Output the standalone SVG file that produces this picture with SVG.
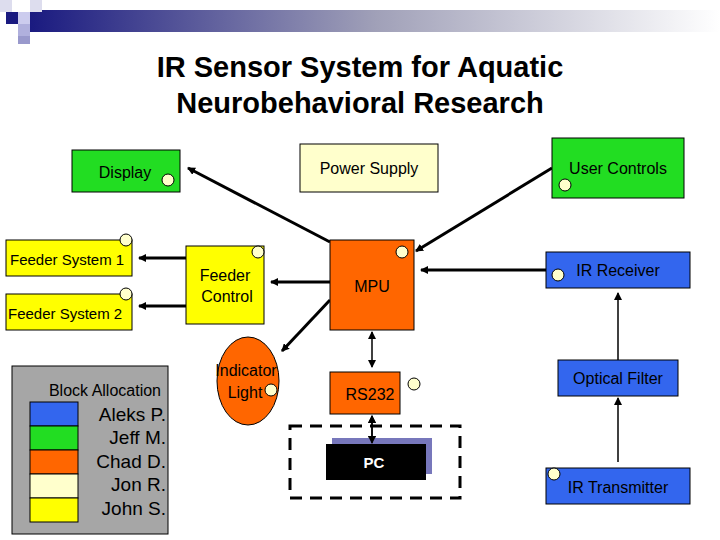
<svg xmlns="http://www.w3.org/2000/svg" width="720" height="540" viewBox="0 0 720 540">
<defs>
<linearGradient id="band" x1="0" x2="1" y1="0" y2="0"><stop offset="0" stop-color="#1a1a80"/><stop offset="0.5" stop-color="#a0a0b8"/><stop offset="1" stop-color="#ffffff"/></linearGradient>
<marker id="ah" markerWidth="8" markerHeight="8" refX="7" refY="4" orient="auto" markerUnits="userSpaceOnUse"><path d="M0,0 L8,4 L0,8 z" fill="#000"/></marker>
<marker id="as" markerWidth="8" markerHeight="8" refX="1" refY="4" orient="auto" markerUnits="userSpaceOnUse"><path d="M8,0 L0,4 L8,8 z" fill="#000"/></marker>
<style>
text{font-family:"Liberation Sans",Arial,sans-serif;fill:#000}
.b{stroke:#000;stroke-width:1}
.p{fill:#ffffcc;stroke:#000;stroke-width:1}
.t{font-size:16px;text-anchor:middle}
.l{font-size:19px;text-anchor:end}
.c line{stroke:#000;stroke-width:3;marker-end:url(#ah)}
</style>
</defs>
<rect width="720" height="540" fill="#fff"/>
<rect x="30" y="10" width="690" height="22" fill="url(#band)"/>
<rect x="0" y="0" width="12" height="12" fill="#ddddee"/>
<rect x="6" y="12" width="12" height="12" fill="#1a1a80"/>
<rect x="18" y="12" width="12" height="12" fill="#ccccee"/>
<rect x="30" y="0" width="12" height="12" fill="#ddddee"/>
<rect x="18" y="24" width="12" height="12" fill="#b0b0dd"/>
<rect x="18" y="36" width="12" height="8" fill="#9999cc"/>
<text x="360" y="77" font-size="29" font-weight="bold" text-anchor="middle">IR Sensor System for Aquatic</text>
<text x="360" y="113" font-size="29" font-weight="bold" text-anchor="middle">Neurobehavioral Research</text>

<g class="c">
<line x1="330" y1="242" x2="188" y2="168"/>
<line x1="552" y1="168" x2="416" y2="251"/>
<line x1="546" y1="270" x2="421" y2="270"/>
<line x1="330" y1="282" x2="271" y2="282"/>
<line x1="186" y1="258" x2="139" y2="258"/>
<line x1="186" y1="306" x2="139" y2="306"/>
<line x1="330" y1="300" x2="282" y2="351"/>
<line x1="372" y1="332" x2="372" y2="367" style="stroke-width:1.5" marker-start="url(#as)"/>
<line x1="372" y1="416" x2="372" y2="443" style="stroke-width:1.5" marker-start="url(#as)"/>
<line x1="618" y1="360" x2="618" y2="293" style="stroke-width:1.5"/>
<line x1="618" y1="462" x2="618" y2="398" style="stroke-width:1.5"/>
</g>

<g id="display"><rect class="b" x="72" y="150" width="108" height="42" fill="#22dd22"/><text class="t" x="125" y="178">Display</text><circle class="p" cx="168" cy="180" r="6"/></g>
<g id="power"><rect class="b" x="300" y="144" width="138" height="48" fill="#ffffcc"/><text class="t" x="369" y="174">Power Supply</text></g>
<g id="usercontrols"><rect class="b" x="552" y="138" width="132" height="60" fill="#22dd22"/><text class="t" x="618" y="174">User Controls</text><circle class="p" cx="565" cy="185" r="6"/></g>
<g id="fs1"><rect class="b" x="6" y="240" width="126" height="36" fill="#ffff00"/><text x="10" y="265" font-size="15">Feeder System 1</text><circle class="p" cx="126" cy="240" r="6"/></g>
<g id="fs2"><rect class="b" x="6" y="294" width="126" height="36" fill="#ffff00"/><text x="8" y="319" font-size="15">Feeder System 2</text><circle class="p" cx="126" cy="294" r="6"/></g>
<g id="feedercontrol"><rect class="b" x="186" y="246" width="78" height="78" fill="#ffff00"/><text class="t" x="225" y="281">Feeder</text><text class="t" x="227" y="302">Control</text><circle class="p" cx="258" cy="252" r="6"/></g>
<g id="mpu"><rect class="b" x="330" y="240" width="84" height="90" fill="#ff6600"/><text class="t" x="372" y="292">MPU</text><circle class="p" cx="402" cy="252" r="6"/></g>
<g id="irreceiver"><rect class="b" x="546" y="252" width="144" height="36" fill="#3366ee"/><text class="t" x="618" y="276">IR Receiver</text><circle class="p" cx="558" cy="275" r="6"/></g>
<g id="indicator"><ellipse class="b" cx="248" cy="381" rx="31" ry="44" fill="#ff6600"/><text class="t" x="246" y="376">Indicator</text><text class="t" x="245" y="398">Light</text><circle class="p" cx="271" cy="390" r="6"/></g>
<g id="rs232"><rect class="b" x="330" y="372" width="70" height="42" fill="#ff6600"/><text class="t" x="370" y="400">RS232</text><circle class="p" cx="414" cy="384" r="6"/></g>
<g id="opticalfilter"><rect class="b" x="558" y="360" width="120" height="36" fill="#3366ee"/><text class="t" x="618" y="384">Optical Filter</text></g>
<g id="irtransmitter"><rect class="b" x="546" y="468" width="144" height="36" fill="#3366ee"/><text class="t" x="618" y="493">IR Transmitter</text><circle class="p" cx="554" cy="474" r="6"/></g>
<g id="pc"><rect x="290" y="426" width="170" height="72" fill="none" stroke="#000" stroke-width="3" stroke-dasharray="12,8"/><rect x="332" y="438" width="100" height="36" fill="#7777bb"/><rect x="326" y="444" width="100" height="36" fill="#000"/><text x="374" y="468" font-size="15" font-weight="bold" text-anchor="middle" style="fill:#fff">PC</text><line x1="372" y1="416" x2="372" y2="443" stroke="#000" stroke-width="1.5" marker-end="url(#ah)" marker-start="url(#as)"/></g>
<g id="legend"><rect class="b" x="12" y="366" width="156" height="168" fill="#a6a6a6"/>
<text x="161" y="396" font-size="16" text-anchor="end">Block Allocation</text>
<rect class="b" x="30" y="402" width="48" height="24" fill="#3366ee"/><text class="l" x="166" y="421">Aleks P.</text>
<rect class="b" x="30" y="426" width="48" height="24" fill="#22dd22"/><text class="l" x="166" y="444">Jeff M.</text>
<rect class="b" x="30" y="450" width="48" height="24" fill="#ff6600"/><text class="l" x="166" y="468">Chad D.</text>
<rect class="b" x="30" y="474" width="48" height="24" fill="#ffffcc"/><text class="l" x="166" y="491">Jon R.</text>
<rect class="b" x="30" y="498" width="48" height="24" fill="#ffff00"/><text class="l" x="166" y="515">John S.</text>
</g>
</svg>
